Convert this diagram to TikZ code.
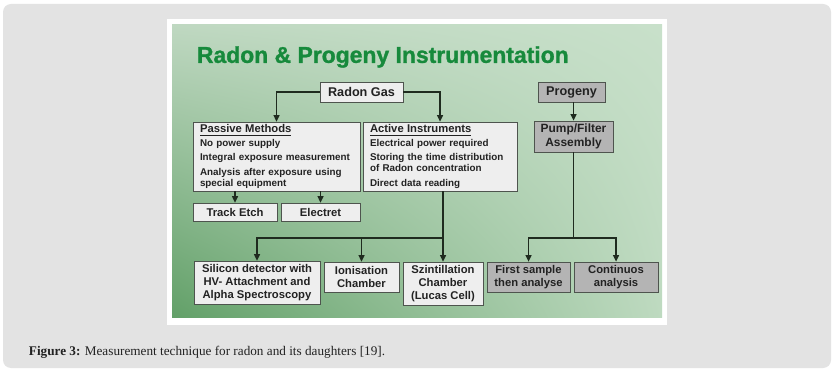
\documentclass[tikz,border=0pt]{standalone}
\usepackage{fontspec}
\setmainfont{Liberation Sans}
\newfontfamily\capfont{Liberation Serif}
\newfontfamily\titlefont[BoldFeatures={FakeBold=1.2}]{Liberation Sans}
\usetikzlibrary{arrows.meta,calc,shadings}
\definecolor{INK}{HTML}{222222}
\definecolor{EDGE}{HTML}{4E544E}
\definecolor{LINK}{HTML}{1F2B1F}
\definecolor{PAPER}{HTML}{E3E3E3}
\definecolor{TITLE}{HTML}{178A3C}
\definecolor{LIGHTBOX}{HTML}{EEEEEE}
\definecolor{GREYBOX}{HTML}{B4B4B4}
\definecolor{GTL}{HTML}{BFD8C1}
\definecolor{GTR}{HTML}{C8E0CA}
\definecolor{GBL}{HTML}{62A068}
\definecolor{GBR}{HTML}{BEDAC0}

\begin{document}
\begin{tikzpicture}[x=0.25mm,y=-0.25mm]
\tikzset{box/.style={draw=EDGE,fill=LIGHTBOX,line width=0.6pt,text=INK,font=\bfseries\fontsize{8}{9.5}\selectfont,align=center,inner sep=1pt},
 gbox/.style={box,fill=GREYBOX},sz/.style 2 args={minimum width=#1*0.25mm,minimum height=#2*0.25mm},
 lst/.style={box,align=left,font=\bfseries\fontsize{7}{7.8}\selectfont,inner xsep=1.75mm},
 ln/.style={LINK,line width=0.8pt},arr/.style={ln,-{Triangle[length=1.6mm,width=1.5mm]}}}
\useasboundingbox (0,0) rectangle (836,375);
\fill[white] (0,0) rectangle (836,375);
\fill[PAPER,rounded corners=2mm] (3,4) rectangle (831,368);
\fill[white] (167,19) rectangle (667,325);
\shade[upper left=GTL,upper right=GTR,lower left=GBL,lower right=GBR] (172,25) rectangle (662,317);
\node[anchor=west,text=TITLE,font=\titlefont\bfseries\fontsize{16.3}{18}\selectfont] (title) at (192,57) {Radon \& Progeny Instrumentation};
\node[box,sz={83}{20},font=\bfseries\fontsize{9}{10}\selectfont] (rg) at (361.5,92) {Radon Gas};
\node[lst,sz={167}{69},text width=38.25mm] (pm) at (276.5,156.5) {{\fontsize{8}{9}\selectfont\underline{Passive Methods}}\\[2pt]
 No power supply\\[2.4pt] Integral exposure measurement\\[2.4pt] Analysis after exposure using\\special equipment};
\node[lst,sz={154}{69},text width=35mm] (ai) at (440,156.5) {{\fontsize{8}{9}\selectfont\underline{Active Instruments}}\\[2pt]
 Electrical power required\\[2.4pt] Storing the time distribution\\of Radon concentration\\[2.4pt] Direct data reading};
\node[box,sz={84}{18}] (te) at (235,212) {Track Etch};
\node[box,sz={79}{18}] (el) at (320.5,212) {Electret};
\node[box,sz={126}{43}] (si) at (257,282.5) {Silicon detector with\\HV- Attachment and\\Alpha Spectroscopy};
\node[box,sz={75}{30}] (io) at (361.5,277) {Ionisation\\Chamber};
\node[box,sz={80}{43}] (sc) at (443,283.5) {Szintillation\\Chamber\\(Lucas Cell)};
\node[gbox,sz={67}{20},font=\bfseries\fontsize{9}{10}\selectfont] (pg) at (571.5,92) {Progeny};
\node[gbox,sz={79}{31},font=\bfseries\fontsize{8.5}{9.5}\selectfont] (pf) at (573.5,136.5) {Pump/Filter\\Assembly};
\node[gbox,sz={83}{30}] (fs) at (528.5,277) {First sample\\then analyse};
\node[gbox,sz={84}{30}] (ca) at (616,277) {Continuos\\analysis};
\coordinate (aj) at (443,238);
\coordinate (pj) at (573.5,238);
\draw[arr] (rg.west) -| (pm.north);
\draw[arr] (rg.east) -| (ai.north);
\foreach \n in {te,el}{\draw[arr] (\n.north |- pm.south) -- (\n.north);}
\draw[ln] (ai.south -| aj) -- (aj);
\foreach \n in {si,io,sc}{\draw[arr] (aj) -| (\n.north);}
\draw[arr] (pf.north |- pg.south) -- (pf.north);
\draw[ln] (pf.south) -- (pj);
\foreach \n in {fs,ca}{\draw[arr] (pj) -| (\n.north);}
\node[anchor=west,text=INK,font=\capfont\fontsize{9.4}{11}\selectfont] (cap) at (24,352) {\textbf{Figure 3:} Measurement technique for radon and its daughters [19].};
\end{tikzpicture}
\end{document}
